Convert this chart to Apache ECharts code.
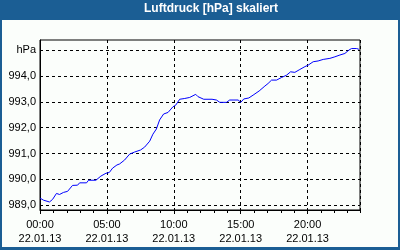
<!DOCTYPE html>
<html><head><meta charset="utf-8">
<script src="https://cdn.jsdelivr.net/npm/echarts@6/dist/echarts.min.js"></script>
<style>html,body{margin:0;padding:0;background:#1b5e94}#c{width:400px;height:250px}</style>
</head><body><div id="c"></div>
<script>
const titleText = 'Luftdruck [hPa] skaliert';
const dateLabel = '22.01.13';
const xTickHours = [0, 5, 10, 15, 20];
const xTickLabels = ['00:00', '05:00', '10:00', '15:00', '20:00'];
const yTickValues = [989, 990, 991, 992, 993, 994, 995];
const yTickLabels = ['989,0', '990,0', '991,0', '992,0', '993,0', '994,0', 'hPa'];
const hours = [0.00,0.26,0.71,0.94,1.23,1.46,1.76,2.06,2.43,2.81,2.96,3.48,3.63,4.18,4.55,4.93,5.18,5.43,5.75,5.95,6.32,6.70,7.07,7.52,7.82,8.20,8.44,8.70,8.94,9.24,9.57,9.94,10.14,10.44,10.82,11.19,11.32,11.64,11.81,12.24,12.86,13.19,13.44,13.94,14.18,14.43,14.56,14.81,15.01,15.23,15.61,15.93,16.38,16.81,17.05,17.31,17.68,18.05,18.43,18.73,19.05,19.42,19.80,20.05,20.42,20.79,21.17,21.67,22.04,22.42,22.79,23.09,23.29,23.67,23.84];
const pressure = [989.28,989.20,989.13,989.23,989.46,989.42,989.50,989.54,989.77,989.78,989.87,989.87,989.97,989.97,990.13,990.24,990.27,990.44,990.56,990.60,990.75,990.98,991.06,991.14,991.25,991.48,991.75,991.95,992.30,992.53,992.59,992.81,992.87,993.10,993.13,993.17,993.22,993.29,993.20,993.10,993.10,993.07,992.98,992.98,993.07,993.07,993.11,993.07,992.98,993.11,993.15,993.26,993.42,993.61,993.71,993.84,993.84,993.94,994.03,994.16,994.14,994.25,994.36,994.42,994.55,994.58,994.64,994.68,994.74,994.81,994.87,995.00,995.06,995.06,995.03];
const xMin = 0, xMax = 23.92, yMin = 988.82, yMax = 995.39;

const data = hours.map((h, i) => [h, pressure[i]]);
const FONT = 'Liberation Sans, Arial, sans-serif';
const chart = echarts.init(document.getElementById('c'), null, {renderer: 'canvas'});
chart.setOption({
  backgroundColor: '#1b5e94',
  animation: false,
  graphic: [{type: 'rect', z: -100, silent: true, shape: {x: 2, y: 20, width: 396, height: 227}, style: {fill: '#fbfefb'}}],
  title: {text: titleText, left: 211, textAlign: 'center', top: 3, padding: 0,
    textStyle: {color: '#ffffff', fontFamily: FONT, fontSize: 12, fontWeight: 'bold'}},
  grid: {left: 40, right: 40, top: 40, bottom: 40, show: true, borderColor: '#000', borderWidth: 1, backgroundColor: 'transparent'},
  xAxis: [{
    type: 'value', min: xMin, max: xMax, interval: 5, position: 'bottom',
    axisLine: {show: true, lineStyle: {color: '#000', width: 1}},
    axisTick: {show: true, length: 4, lineStyle: {color: '#000'}},
    splitLine: {show: true, lineStyle: {color: '#000', type: [3, 3], width: 1}},
    axisLabel: {showMaxLabel: false, margin: 8, color: '#000', fontFamily: FONT, fontSize: 11, lineHeight: 14,
      formatter: v => { const i = xTickHours.indexOf(v); return i < 0 ? '' : xTickLabels[i] + '\n' + dateLabel; }}
  }, {
    type: 'value', min: xMin, max: xMax, interval: 1, position: 'bottom', offset: 0,
    axisLine: {show: false}, axisTick: {show: true, length: 3, lineStyle: {color: '#000'}},
    axisLabel: {show: false}, splitLine: {show: false}
  }],
  yAxis: {
    type: 'value', min: yMin, max: yMax,
    axisLine: {show: true, lineStyle: {color: '#000'}},
    axisTick: {show: false, customValues: yTickValues},
    splitLine: {show: true, lineStyle: {color: '#000', type: [3, 3], width: 1}},
    axisLabel: {customValues: yTickValues, margin: 4, color: '#000', fontFamily: FONT, fontSize: 11,
      formatter: v => { const i = yTickValues.indexOf(Math.round(v)); return i < 0 ? '' : yTickLabels[i]; }}
  },
  series: [{type: 'line', xAxisIndex: 0, data: data, symbol: 'none', lineStyle: {color: '#0000ff', width: 1}, z: 3}]
});
</script></body></html>
